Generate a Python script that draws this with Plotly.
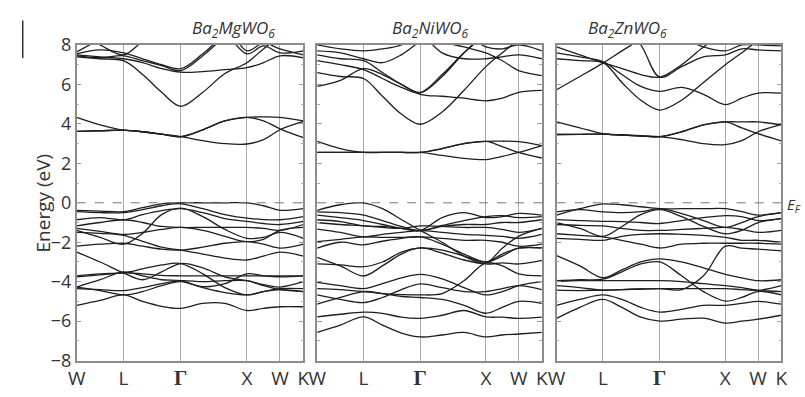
import plotly.graph_objects as go

# k-path sample points (W, L, Gamma, X, W, K) for fcc
kpath = [0.0, 0.354, 0.707, 0.996, 1.284, 1.573, 1.906, 2.24, 2.573, 2.823, 3.073, 3.427]
sym_k = [0.0, 0.707, 1.573, 2.573, 3.073, 3.427]
sym_labels = ["W", "L", "<span style='font-family:Liberation Serif;font-weight:bold;font-size:21px'>Γ</span>",
              "X", "W", "K"]
titles = ["<i>Ba<sub>2</sub>MgWO<sub>6</sub></i>", "<i>Ba<sub>2</sub>NiWO<sub>6</sub></i>",
          "<i>Ba<sub>2</sub>ZnWO<sub>6</sub></i>"]
yticks = [-8, -6, -4, -2, 0, 2, 4, 6, 8]

# ---------------- Ba2MgWO6 ----------------
mg_conduction = [
    [3.62, 3.65, 3.68, 3.6, 3.48, 3.35, 3.15, 3.0, 2.98, 3.2, 3.7, 4.12],
    [4.33, 3.95, 3.68, 3.6, 3.48, 3.35, 3.7, 4.15, 4.33, 4.15, 3.75, 3.3],
    [3.62, 3.65, 3.68, 3.6, 3.48, 3.35, 3.7, 4.15, 4.33, 4.35, 4.33, 4.15],
    [7.4, 7.3, 7.2, 6.5, 5.6, 4.89, 5.6, 6.55, 7.1, 7.8, 8.4, 8.6],
    [7.5, 7.4, 7.3, 7.1, 6.8, 6.62, 6.65, 6.75, 6.85, 7.1, 7.45, 7.35],
    [7.55, 7.75, 7.6, 7.3, 7.0, 6.8, 7.55, 8.5, 9.0, 9.0, 9.0, 9.0],
    [7.45, 7.35, 7.45, 7.2, 6.95, 6.7, 7.45, 8.4, 9.0, 9.0, 9.0, 9.0],
    [7.65, 8.3, 9.0, 9.0, 9.0, 9.0, 9.0, 8.6, 7.55, 7.95, 7.6, 7.7],
    [8.6, 8.0, 7.5, 8.2, 9.0, 9.0, 9.0, 9.0, 7.7, 8.1, 7.8, 7.5],
]
mg_valence = [
    [-0.38, -0.42, -0.45, -0.25, -0.05, 0.0, 0.0, 0.0, 0.0, -0.15, -0.38, -0.3],
    [-0.45, -0.5, -0.5, -0.35, -0.15, -0.05, -0.3, -0.6, -0.78, -0.85, -0.86, -0.7],
    [-1.4, -1.75, -2.1, -1.55, -0.6, -0.27, -0.7, -1.35, -1.8, -1.75, -1.5, -1.8],
    [-0.86, -0.75, -0.86, -0.6, -0.4, -0.3, -0.5, -0.8, -0.94, -1.05, -1.1, -0.94],
    [-1.17, -1.0, -0.86, -1.0, -1.2, -1.25, -1.25, -1.25, -1.25, -1.3, -1.4, -1.1],
    [-1.3, -1.45, -1.6, -1.5, -1.35, -1.25, -1.4, -1.7, -1.97, -1.85, -1.4, -1.25],
    [-1.5, -1.55, -1.65, -1.95, -2.25, -2.4, -2.6, -2.8, -2.9, -2.7, -2.5, -2.7],
    [-2.2, -2.1, -2.05, -2.2, -2.35, -2.4, -2.25, -2.05, -1.97, -2.1, -2.3, -2.1],
    [-2.5, -3.0, -3.55, -3.9, -3.5, -3.08, -3.3, -3.75, -3.95, -4.15, -4.27, -4.0],
    [-3.7, -3.6, -3.55, -3.35, -3.15, -3.08, -3.6, -4.3, -4.67, -4.5, -4.35, -4.35],
    [-3.75, -3.65, -3.55, -3.6, -3.68, -3.7, -3.7, -3.7, -3.7, -3.7, -3.7, -3.7],
    [-4.27, -3.9, -3.5, -3.7, -3.9, -3.95, -4.25, -4.1, -3.6, -3.7, -3.75, -3.7],
    [-4.35, -4.4, -4.45, -4.3, -4.1, -3.95, -4.0, -3.95, -3.95, -4.2, -4.4, -4.5],
    [-4.27, -4.45, -4.67, -4.5, -4.2, -4.0, -4.3, -4.55, -4.67, -4.5, -4.4, -4.5],
    [-5.2, -4.95, -4.67, -5.0, -5.25, -5.35, -5.1, -5.1, -5.46, -5.35, -5.27, -5.27],
]

# ---------------- Ba2NiWO6 ----------------
ni_conduction = [
    [2.55, 2.55, 2.55, 2.55, 2.55, 2.55, 2.4, 2.25, 2.19, 2.35, 2.55, 2.9],
    [3.11, 2.75, 2.55, 2.55, 2.55, 2.55, 2.75, 3.0, 3.11, 2.85, 2.55, 2.27],
    [2.55, 2.55, 2.55, 2.55, 2.55, 2.55, 2.75, 3.0, 3.11, 3.12, 3.1, 2.9],
    [6.6, 6.4, 6.3, 5.4, 4.5, 3.98, 4.6, 5.7, 6.9, 7.6, 8.2, 8.5],
    [7.2, 7.0, 6.75, 6.3, 5.85, 5.57, 6.4, 7.6, 8.6, 9.0, 9.0, 9.0],
    [7.5, 7.3, 7.2, 6.6, 6.0, 5.5, 5.4, 5.3, 5.17, 5.3, 5.6, 5.7],
    [5.9, 6.2, 6.8, 6.5, 6.0, 5.6, 6.5, 7.6, 8.5, 9.0, 9.0, 9.0],
    [7.7, 7.6, 7.3, 7.1, 7.5, 8.2, 9.0, 9.0, 9.0, 9.0, 9.0, 9.0],
    [8.0, 7.8, 7.7, 7.8, 8.0, 8.6, 9.0, 9.0, 9.0, 9.0, 9.0, 9.0],
    [9.0, 9.0, 9.0, 9.0, 9.0, 8.6, 7.6, 7.3, 7.3, 7.4, 7.5, 7.3],
    [9.0, 9.0, 9.0, 9.0, 9.0, 9.0, 8.2, 7.9, 7.6, 7.2, 6.7, 6.45],
    [9.0, 9.0, 9.0, 9.0, 9.0, 9.0, 9.0, 8.6, 7.9, 7.8, 8.0, 7.7],
]
ni_valence = [
    [-0.38, -0.1, 0.0, -0.3, -0.85, -1.4, -2.0, -2.7, -3.05, -2.3, -1.7, -1.3],
    [-0.62, -0.75, -0.9, -1.1, -1.3, -1.4, -0.75, -0.5, -0.75, -0.7, -0.54, -0.62],
    [-0.46, -0.5, -0.62, -0.9, -1.2, -1.41, -1.15, -0.9, -0.7, -0.65, -0.75, -0.7],
    [-0.86, -0.95, -1.17, -1.2, -1.3, -1.41, -1.2, -1.1, -1.1, -1.0, -1.0, -0.86],
    [-1.0, -1.1, -1.17, -1.25, -1.3, -1.17, -1.2, -1.25, -1.25, -1.35, -1.5, -1.3],
    [-1.33, -1.5, -1.73, -1.6, -1.5, -1.41, -1.5, -1.6, -1.65, -1.7, -1.8, -1.6],
    [-1.97, -1.85, -1.73, -1.75, -1.75, -1.73, -1.8, -1.9, -1.9, -2.0, -2.2, -2.1],
    [-2.3, -2.0, -2.13, -1.95, -1.8, -1.73, -2.1, -2.6, -3.0, -2.7, -2.3, -2.29],
    [-2.76, -3.2, -3.71, -3.2, -2.6, -2.29, -2.55, -2.9, -3.1, -3.05, -3.1, -2.92],
    [-3.1, -3.15, -3.24, -3.0, -2.5, -2.29, -2.4, -2.7, -3.0, -2.6, -2.3, -2.29],
    [-4.03, -4.2, -4.35, -4.1, -3.8, -3.63, -3.85, -4.3, -4.67, -4.5, -4.2, -4.0],
    [-4.67, -4.9, -5.06, -4.8, -4.4, -4.11, -4.3, -4.5, -4.5, -4.35, -4.2, -4.4],
    [-4.35, -4.4, -4.5, -4.6, -4.65, -4.67, -4.6, -3.95, -3.05, -3.2, -3.6, -3.7],
    [-5.14, -4.8, -4.5, -4.6, -4.75, -4.8, -4.9, -5.2, -5.6, -5.3, -5.0, -5.1],
    [-5.78, -5.65, -5.54, -5.6, -5.8, -5.86, -5.7, -5.46, -5.78, -5.8, -5.86, -5.8],
    [-6.57, -6.2, -5.78, -6.2, -6.6, -6.8, -6.7, -6.57, -6.8, -6.7, -6.65, -6.57],
]

# ---------------- Ba2ZnWO6 ----------------
zn_conduction = [
    [3.46, 3.47, 3.48, 3.43, 3.38, 3.35, 3.2, 3.0, 2.95, 3.15, 3.6, 3.98],
    [4.1, 3.8, 3.5, 3.45, 3.4, 3.35, 3.6, 3.95, 4.1, 4.1, 4.1, 3.95],
    [3.46, 3.47, 3.48, 3.43, 3.38, 3.35, 3.6, 3.95, 4.1, 3.8, 3.5, 3.14],
    [7.3, 7.2, 7.1, 6.1, 5.2, 4.7, 5.2, 6.1, 7.0, 7.6, 8.2, 8.5],
    [7.6, 7.4, 7.15, 6.5, 5.9, 5.65, 5.85, 5.5, 4.98, 5.3, 5.56, 5.56],
    [5.73, 6.4, 7.08, 7.7, 8.3, 9.0, 9.0, 9.0, 9.0, 9.0, 9.0, 9.0],
    [7.9, 7.5, 7.1, 6.8, 6.5, 6.37, 7.0, 7.9, 8.6, 9.0, 9.0, 9.0],
    [9.0, 9.0, 9.0, 9.0, 8.0, 6.37, 6.9, 7.4, 7.5, 7.8, 7.75, 7.7],
    [9.0, 9.0, 9.0, 9.0, 9.0, 9.0, 8.4, 7.9, 7.7, 8.0, 8.0, 7.95],
]
zn_valence = [
    [-0.62, -0.3, -0.06, -0.1, -0.2, -0.3, -0.3, -0.3, -0.3, -0.45, -0.62, -0.5],
    [-0.46, -0.35, -0.46, -0.5, -0.45, -0.3, -0.55, -0.9, -1.25, -1.0, -0.7, -0.5],
    [-1.0, -1.3, -1.7, -1.2, -0.6, -0.35, -0.7, -1.2, -1.57, -1.4, -1.0, -0.8],
    [-0.85, -0.9, -0.94, -0.95, -1.0, -1.05, -0.9, -0.75, -0.65, -0.7, -0.9, -0.8],
    [-1.1, -1.15, -1.17, -1.3, -1.4, -1.4, -1.35, -1.3, -1.25, -1.35, -1.5, -1.4],
    [-1.57, -1.65, -1.73, -1.9, -2.1, -2.29, -2.1, -2.05, -2.05, -2.05, -2.05, -2.1],
    [-1.8, -1.85, -1.9, -1.7, -1.6, -1.57, -1.6, -1.65, -1.75, -1.9, -1.9, -2.0],
    [-2.68, -3.2, -3.8, -3.4, -3.0, -2.84, -3.0, -3.3, -3.63, -3.8, -3.95, -3.9],
    [-3.95, -3.9, -3.87, -3.5, -3.1, -3.0, -3.7, -4.5, -4.98, -4.8, -4.5, -4.67],
    [-4.43, -4.45, -4.43, -4.4, -4.37, -4.35, -4.4, -3.7, -2.2, -2.3, -2.35, -2.44],
    [-4.2, -4.3, -4.43, -4.4, -4.37, -4.35, -4.35, -4.35, -4.35, -4.4, -4.45, -4.5],
    [-4.0, -3.95, -3.95, -3.95, -3.95, -3.95, -4.0, -4.1, -4.2, -4.3, -4.43, -4.2],
    [-5.2, -4.9, -4.67, -4.9, -5.3, -5.54, -5.4, -5.2, -5.2, -5.1, -5.0, -5.14],
    [-5.86, -5.3, -4.9, -5.3, -5.8, -6.0, -5.9, -5.85, -6.1, -6.0, -5.9, -5.7],
]

panels = [mg_conduction + mg_valence, ni_conduction + ni_valence, zn_conduction + zn_valence]

W, H = 805, 397
xdom_px = [(69, 300), (314, 543), (558, 787)]
ytop, ybot = 34, 370

fig = go.Figure()
line_col = "#1e1e1e"
frame_col = "#8c8c8c"
font_fam = "Open Sans, DejaVu Sans"
for i, bands in enumerate(panels):
    ax = "" if i == 0 else str(i + 1)
    for b in bands:
        fig.add_trace(go.Scatter(x=kpath, y=b, mode="lines", xaxis="x" + ax, yaxis="y" + ax,
                                 line=dict(color=line_col, width=1.3, shape="spline", smoothing=1.0),
                                 hoverinfo="skip", showlegend=False, cliponaxis=True))
    # Fermi level
    fig.add_trace(go.Scatter(x=[sym_k[0], sym_k[-1]], y=[0, 0], mode="lines", xaxis="x" + ax,
                             yaxis="y" + ax, line=dict(color="#777", width=1, dash="dash"),
                             hoverinfo="skip", showlegend=False))
    d0, d1 = xdom_px[i]
    fig.layout["xaxis" + ax] = dict(
        domain=[d0 / W, d1 / W], range=[sym_k[0], sym_k[-1]], tickvals=sym_k, ticktext=sym_labels,
        showgrid=True, gridcolor="#a8a8a8", gridwidth=1, zeroline=False, showline=True,
        linecolor=frame_col, linewidth=1.5, mirror=True, ticks="",
        tickfont=dict(family=font_fam, size=19, color="#333"), anchor="y" + ax)
    fig.layout["yaxis" + ax] = dict(
        domain=[(H - ybot) / H, (H - ytop) / H], range=[-8, 8], tickvals=yticks,
        showticklabels=(i == 0), showgrid=False, zeroline=False, showline=True,
        linecolor=frame_col, linewidth=1.5, mirror="ticks", ticks="inside", ticklen=5,
        tickcolor="#999", minor=dict(dtick=1, ticks="inside", ticklen=3, tickcolor="#aaa"),
        tickfont=dict(family=font_fam, size=18, color="#333"),
        anchor="x" + ax)
    fig.add_annotation(text=titles[i], x=(d0 + d1) / 2 / W, y=1 - 17 / H, xref="paper", yref="paper",
                       showarrow=False, font=dict(family=font_fam, size=17, color="#333"),
                       yanchor="middle")

fig.add_annotation(text="Energy (eV)", x=19 / W, y=1 - 202 / H, xref="paper", yref="paper",
                   textangle=-90, showarrow=False,
                   font=dict(family=font_fam, size=19, color="#333"))
fig.add_annotation(text="<i>E<sub>F</sub></i>", x=791 / W, y=1 - 204 / H, xref="paper", yref="paper",
                   xanchor="left", showarrow=False,
                   font=dict(family=font_fam, size=15, color="#333"))
fig.add_shape(type="line", xref="paper", yref="paper", x0=14 / W, x1=14 / W, y0=1 - 8 / H, y1=1 - 48 / H,
              line=dict(color="#333", width=1.5))

fig.update_layout(width=W, height=H, margin=dict(l=0, r=0, t=0, b=0), plot_bgcolor="white",
                  paper_bgcolor="white")
fig.write_html("out.html")
